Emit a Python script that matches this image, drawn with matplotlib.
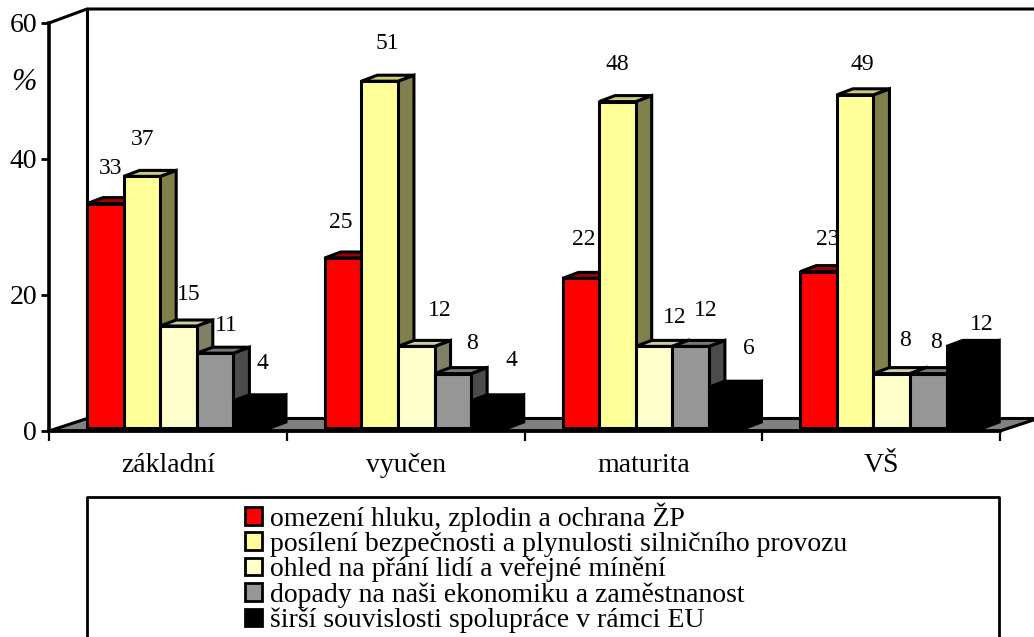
import matplotlib
matplotlib.use("Agg")
import matplotlib.pyplot as plt
from matplotlib.lines import Line2D
from matplotlib.patches import Patch, Polygon

plt.rcParams["font.family"] = ["Liberation Serif", "DejaVu Serif"]

W, H = 1034, 637

categories = ["základní", "vyučen", "maturita", "VŠ"]
series_names = [
    "omezení hluku, zplodin a ochrana ŽP",
    "posílení bezpečnosti a plynulosti silničního provozu",
    "ohled na přání lidí a veřejné mínění",
    "dopady na naši ekonomiku a zaměstnanost",
    "širší souvislosti spolupráce v rámci EU",
]
omezeni = [33, 25, 22, 23]
posileni = [37, 51, 48, 49]
ohled = [15, 12, 12, 8]
dopady = [11, 8, 12, 8]
sirsi = [4, 4, 6, 12]
series_values = [omezeni, posileni, ohled, dopady, sirsi]
y_ticks = [0, 20, 40, 60]

# front, top, side
colors = [
    ("#ff0000", "#a00000", "#800000"),
    ("#ffff99", "#cccc7a", "#80804d"),
    ("#ffffcc", "#ccccA3", "#808066"),
    ("#969696", "#787878", "#4b4b4b"),
    ("#000000", "#000000", "#000000"),
]

# data labels were placed by hand in the original: pixel offset from the bar's top centre
label_dx = [
    [5, -2, 3, 9],
    [1, 8, 0, 7],
    [10, 23, 21, 13],
    [11, 19, 15, 8],
    [11, 22, 22, 17],
]
label_dy = [
    [35, 35, 39, 32],
    [37, 38, 37, 30],
    [31, 36, 29, 33],
    [28, 30, 36, 31],
    [37, 40, 39, 22],
]

# plot frame in pixels: front plane of the pseudo 3D box
LEFT, RIGHT, BOTTOM, TOP = 49, 1000, 431, 23
GROUP_PX = (RIGHT - LEFT) / len(categories)
UNIT_PX = (BOTTOM - TOP) / 60
DX = 38 / GROUP_PX      # depth of the box
DY = 12.5 / UNIT_PX
BAR_DX = 16 / GROUP_PX  # depth of a bar
BAR_DY = 6 / UNIT_PX
BAR_W = 36.6 / GROUP_PX
BASE = 3 / UNIT_PX
LW = 2.2

fig = plt.figure(figsize=(W / 100, H / 100), dpi=100)
ax = fig.add_axes([LEFT / W, 1 - BOTTOM / H, (RIGHT - LEFT) / W, (BOTTOM - TOP) / H])
ax.set_xlim(0, len(categories))
ax.set_ylim(0, 60)
for s in ["top", "right"]:
    ax.spines[s].set_visible(False)
for s in ["left", "bottom"]:
    ax.spines[s].set_linewidth(2.6)
ax.patch.set_visible(False)

ax.set_yticks(y_ticks)
ax.set_xticks(range(len(categories) + 1))
ax.set_xticklabels([])
ax.tick_params(axis="y", length=6, width=2, labelsize=20, pad=2.5)
ax.tick_params(axis="x", length=7, width=1.6)
for i, name in enumerate(categories):
    ax.annotate(name, (i + 0.5, 0), xytext=(0, -35), textcoords="offset pixels",
                ha="center", va="center", fontsize=20)

# floor and walls
ax.add_patch(Polygon([(0, 0), (DX, DY), (4 + DX, DY), (4, 0)], closed=True, facecolor="#808080",
                     edgecolor="black", lw=2.2, clip_on=False, zorder=1))
top_y = 60 + 14 / UNIT_PX
ax.plot([0, DX, 4 + DX], [60, top_y, top_y], color="black", lw=2.2, clip_on=False, zorder=1)
ax.plot([DX, DX], [DY, top_y], color="black", lw=2.2, clip_on=False, zorder=1)

# bars, drawn left to right so each one hides the side of the previous
z = 2
for i in range(len(categories)):
    for j, values in enumerate(series_values):
        x0 = i + DX + j * BAR_W
        x1 = x0 + BAR_W
        y1 = BASE + values[i]
        front, top, side = colors[j]
        ax.add_patch(Polygon([(x1, BASE), (x1 + BAR_DX, BASE + BAR_DY), (x1 + BAR_DX, y1 + BAR_DY), (x1, y1)],
                             facecolor=side, edgecolor="black", lw=LW, clip_on=False, zorder=z))
        ax.add_patch(Polygon([(x0, y1), (x0 + BAR_DX, y1 + BAR_DY), (x1 + BAR_DX, y1 + BAR_DY), (x1, y1)],
                             facecolor=top, edgecolor="black", lw=LW, clip_on=False, zorder=z))
        ax.add_patch(Polygon([(x0, BASE), (x1, BASE), (x1, y1), (x0, y1)],
                             facecolor=front, edgecolor="black", lw=LW, clip_on=False, zorder=z))
        ax.annotate(str(values[i]), ((x0 + x1) / 2, y1), xytext=(label_dx[j][i], label_dy[j][i]),
                    textcoords="offset pixels", ha="center", va="center", fontsize=17, zorder=50)
        z += 1

fig.text(24 / W, 1 - 82 / H, "%", fontsize=22, style="italic", ha="center", va="center")

# legend box runs off the bottom of the picture
fig.add_artist(Line2D([87 / W, 87 / W, 999 / W, 999 / W], [0, 1 - 497 / H, 1 - 497 / H, 0],
                      color="black", lw=2))
handles = [Patch(facecolor=c[0], edgecolor="black", lw=2) for c in colors]
fig.legend(handles, series_names, loc="upper left", bbox_to_anchor=(238 / W, 1 - 495.5 / H),
           frameon=False, fontsize=20, handlelength=0.6, handleheight=0.6, handletextpad=0.3,
           labelspacing=0.0, borderpad=0.25, borderaxespad=0)

fig.savefig("out.png", dpi=100)
